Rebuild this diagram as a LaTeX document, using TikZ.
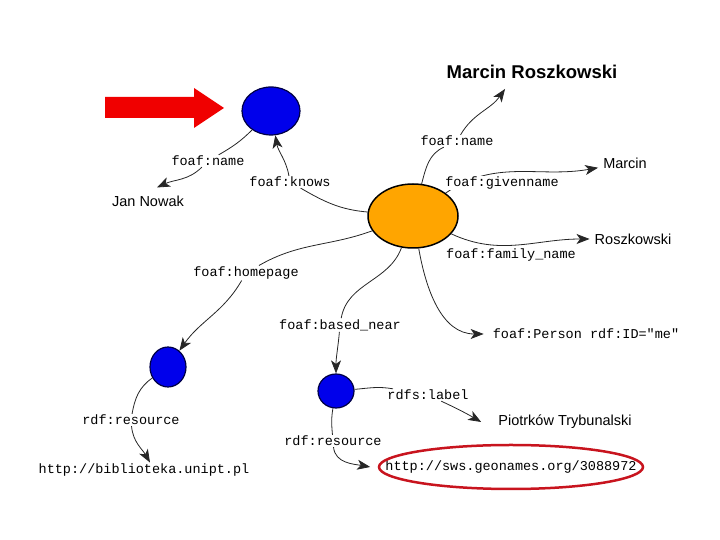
\documentclass[tikz,border=0pt]{standalone}
\usepackage{fontspec}
\setmainfont{Liberation Sans}
\setmonofont{Liberation Mono}
\usetikzlibrary{arrows.meta,shapes.geometric}
\definecolor{azulnodo}{RGB}{0,0,235}
\definecolor{azuloscuro}{RGB}{0,0,70}
\definecolor{naranja}{RGB}{255,165,0}
\definecolor{rojoflecha}{RGB}{240,0,0}
\definecolor{rojoelipse}{RGB}{200,20,30}

\begin{document}
\begin{tikzpicture}[x=1pt, y=1pt,
    recurso/.style={ellipse, draw=azuloscuro, fill=azulnodo, line width=1.2pt, inner sep=0pt},
    prop/.style={font=\ttfamily\fontsize{13.5}{16}\selectfont, fill=white, inner sep=1pt},
    lit/.style={font=\fontsize{14.5}{17}\selectfont, inner sep=5pt},
    rel/.style={-{Stealth[length=13pt, width=10pt, inset=3.5pt]}, line width=0.8pt, draw=black!85}]

    \useasboundingbox (0,0) rectangle (720,540);

    % Flecha roja
    \fill[rojoflecha] (105,422) -- (194,422) -- (194,412) -- (224,432) -- (194,452) -- (194,443) -- (105,443) -- cycle;

    % Nodos
    \node[ellipse, draw, fill=naranja, line width=1.5pt, minimum width=90pt, minimum height=64pt, inner sep=0pt] (yo) at (413,324) {};
    \node[recurso, minimum width=58pt, minimum height=48pt] (conocido) at (271,429) {};
    \node[recurso, minimum width=36pt, minimum height=40pt] (pagina) at (168,173) {};
    \node[recurso, minimum width=36pt, minimum height=34pt] (lugar) at (336,149) {};

    % Literales
    \node[lit, font=\bfseries\fontsize{18.5}{22}\selectfont] (nombre) at (532,468) {Marcin Roszkowski};
    \node[lit] (nombrepila) at (625,377) {Marcin};
    \node[lit] (apellido) at (633,301) {Roszkowski};
    \node[lit] (jan) at (148,339) {Jan Nowak};
    \node[lit] (ciudad) at (565,118) {Piotrków Trybunalski};
    \node[prop] (tipo) at (586,206) {foaf:Person rdf:ID="me"};
    \node[prop] (biblio) at (144,70) {http://biblioteka.unipt.pl};
    \node[prop, fill=none] (geo) at (511,73) {http://sws.geonames.org/3088972};
    \draw[rojoelipse, line width=2.5pt] (geo) ellipse [x radius=132pt, y radius=22pt];

    % Propiedades
    \node[prop] (lnombre) at (457,399) {foaf:name};
    \node[prop] (lapellido) at (511,285) {foaf:family\_name};
    \node[prop] (lnombre2) at (208,379) {foaf:name};
    \node[prop] (lconoce) at (290,358) {foaf:knows};
    \node[prop] (lpagina) at (246,267) {foaf:homepage};
    \node[prop] (lcerca) at (340,215) {foaf:based\_near};
    \node[prop] (letiqueta) at (428,145) {rdfs:label};
    \node[prop] (lrecurso) at (131,120) {rdf:resource};
    \node[prop] (lrecurso2) at (333,99) {rdf:resource};

    % Aristas
    \draw[rel] (yo) to[out=75, in=205] (lnombre) to[out=60, in=235] ([xshift=-27pt, yshift=-5pt]nombre.south);
    \draw[rel] (yo) to[out=35, in=190] (nombrepila);
    \draw[rel] (yo) to[out=-25, in=180] (apellido);
    \draw[rel] (yo) to[out=175, in=-30] (lconoce) to[out=100, in=-80] (conocido);
    \draw[rel] (conocido) to[out=225, in=30] (lnombre2) to[out=225, in=25] ([xshift=9pt, yshift=3pt]jan.north);
    \draw[rel] (yo) to[out=200, in=30] (lpagina) to[out=240, in=55] (pagina);
    \draw[rel] (yo) to[out=250, in=80] (lcerca) to[out=265, in=90] (lugar);
    \draw[rel] (yo) to[out=280, in=180] ([xshift=-8pt]tipo.west);
    \draw[rel] (lugar) to[out=5, in=170] (letiqueta) to[out=-25, in=150] ([xshift=-12pt]ciudad.west);
    \draw[rel] (lugar) to[out=260, in=95] (lrecurso2) to[out=275, in=170] ([xshift=-14pt]geo.west);
    \draw[rel] (pagina) to[out=215, in=80] (lrecurso) to[out=-85, in=120] ([xshift=6pt]biblio.north);

    % Etiqueta encima de la arista
    \node[prop] (lnombrepila) at (502,357) {foaf:givenname};
\end{tikzpicture}
\end{document}
